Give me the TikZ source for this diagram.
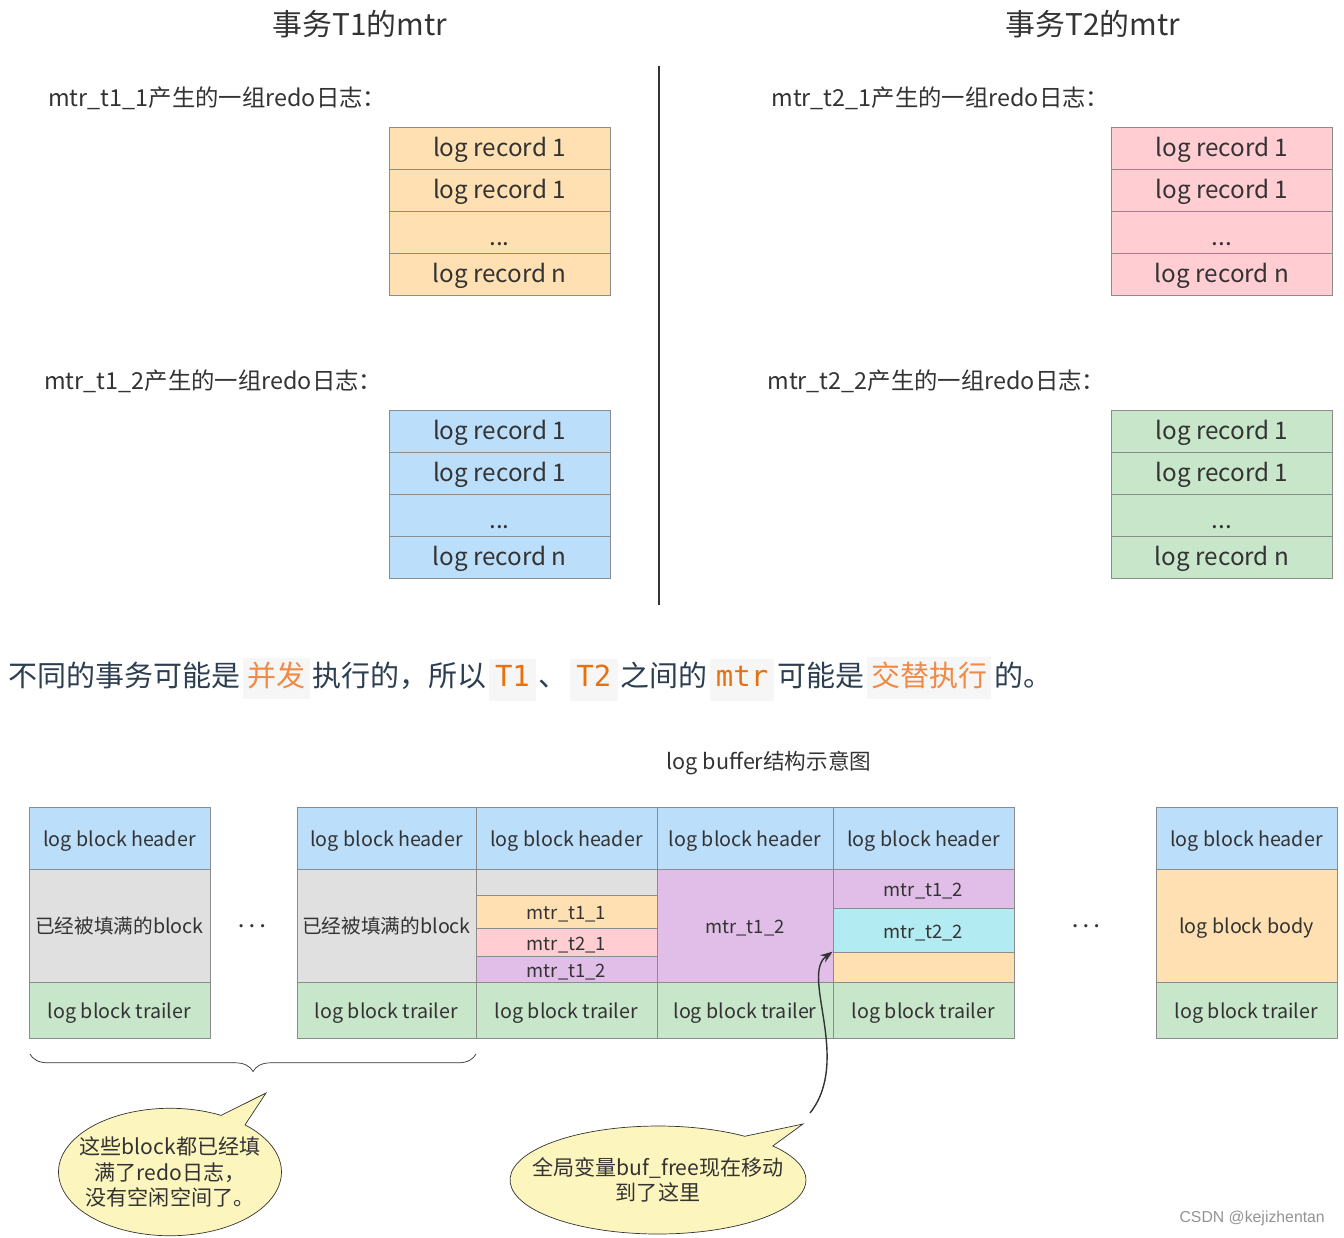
\documentclass[tikz,border=0pt]{standalone}
\usepackage{fontspec}
\setmainfont{Noto Sans CJK SC}
\newfontfamily\codefont{DejaVu Sans Mono}
\newfontfamily\markfont{Liberation Sans}
\usetikzlibrary{shapes.callouts,decorations.pathreplacing,arrows.meta}

\definecolor{recorange}{HTML}{FFE0B2}
\definecolor{recpink}{HTML}{FFCDD2}
\definecolor{recblue}{HTML}{BBDEFB}
\definecolor{recgreen}{HTML}{C8E6C9}
\definecolor{fullgray}{HTML}{E0E0E0}
\definecolor{mtrpurple}{HTML}{E1BEE7}
\definecolor{mtrcyan}{HTML}{B2EBF2}
\definecolor{boxgray}{HTML}{8C8C8C}
\definecolor{textgray}{HTML}{333333}
\definecolor{slate}{HTML}{2C3E50}
\definecolor{hlgray}{HTML}{F6F6F6}
\definecolor{hlorange}{HTML}{F08A45}
\definecolor{codeorange}{HTML}{E8710E}
\definecolor{notefill}{HTML}{FCF5BE}

\newcommand\threedots{\raisebox{-3pt}{...}}
% stack of redo records: name, centre x, top y, fill
\newcommand\recstack[4]{%
  \foreach \txt [count=\i from 0] in {log record 1,log record 1,\threedots,log record n}
    \node[rec, fill=#4] (#1-\i) at (#2, #3+21+\i*42) {\txt};}
% one cell of a log block: name, x1, y1, x2, y2, style, text
\newcommand\cell[7]{%
  \node[cell, #6, minimum width={(#4-#2)*0.02cm}, minimum height={(#5-#3)*0.02cm}]
    (#1) at ({(#2+#4)/2}, {(#3+#5)/2}) {#7};}
\newcommand\hlstrut{\rule[-4.5pt]{0pt}{16.5pt}}
\newcommand\hl[1]{\hspace{1.5pt}{\setlength{\fboxsep}{2.5pt}\colorbox{hlgray}{\hlstrut\color{hlorange}#1}}\hspace{1.5pt}}
\newcommand\hlcode[1]{\hspace{1.5pt}{\setlength{\fboxsep}{3.5pt}\colorbox{hlgray}{\hlstrut\codefont\color{codeorange}#1}}\hspace{1.5pt}}

\begin{document}
\begin{tikzpicture}[x=0.02cm, y=-0.02cm]
    \tikzset{
        rec/.style={
                draw=boxgray,
                minimum width=4.42cm,
                minimum height=0.84cm,
                inner sep=0pt,
                text height=11pt,
                text depth=1.2pt,
                text=textgray,
                font=\fontsize{13.8}{16}\selectfont,
            },
        cell/.style={draw=boxgray, inner sep=0pt, text height=9.5pt, text depth=0pt, text=textgray, font=\fontsize{11.2}{13}\selectfont},
        small/.style={font=\fontsize{10.5}{12}\selectfont},
        title/.style={text=textgray, font=\fontsize{17}{20}\selectfont},
        caption/.style={anchor=west, inner sep=0pt, text=textgray, font=\fontsize{13.3}{16}\selectfont},
        dots/.style={text=textgray, font=\fontsize{12.5}{15}\selectfont\boldmath},
        bubble/.style={
                ellipse callout,
                draw=textgray,
                fill=notefill,
                align=center,
                inner ysep=0pt,
                text=textgray,
                font=\fontsize{12}{14.6}\selectfont,
            },
        pointer/.style={-{Stealth[length=7pt, width=5pt]}, thick, draw=textgray},
    }
    \useasboundingbox (0,0) rectangle (1344,1237);
    % \draw[step=100] (0,0) grid (1344,1237);

    \node[title] (t1) at (360, 24) {事务T1的mtr};
    \node[title] (t2) at (1093, 24) {事务T2的mtr};
    \coordinate (sepTop) at (659, 66);
    \coordinate (sepBot) at (659, 605);
    \draw[textgray, line width=1.2pt] (sepTop) -- (sepBot);

    \node[caption] (cap11) at (48, 98) {mtr\_t1\_1产生的一组redo日志：};
    \node[caption] (cap21) at (771, 98) {mtr\_t2\_1产生的一组redo日志：};
    \node[caption] (cap12) at (44, 381) {mtr\_t1\_2产生的一组redo日志：};
    \node[caption] (cap22) at (767, 381) {mtr\_t2\_2产生的一组redo日志：};
    \recstack{s11}{499.5}{127}{recorange}
    \recstack{s21}{1222}{127}{recpink}
    \recstack{s12}{499.5}{410}{recblue}
    \recstack{s22}{1222}{410}{recgreen}

    \node[anchor=west, inner sep=0pt, text=slate, font=\fontsize{16.5}{20}\selectfont] (claim) at (8, 679)
        {不同的事务可能是\hl{并发}执行的，所以\hlcode{T1}、\hlcode{T2}之间的\hlcode{mtr}可能是\hl{交替执行}的。};

    \node[text=textgray, font=\fontsize{12.3}{14}\selectfont] (bufTitle) at (769, 763) {log buffer结构示意图};

    % log blocks
    \cell{a1}{29}{807}{210}{869}{fill=recblue}{log block header}
    \cell{a2}{29}{869}{210}{982}{fill=fullgray}{已经被填满的block}
    \cell{a3}{29}{982}{210}{1038}{fill=recgreen}{log block trailer}
    \node[dots] (gapL) at (252, 926) {$\cdots$};
    \cell{b1}{297}{807}{476}{869}{fill=recblue}{log block header}
    \cell{b2}{297}{869}{476}{982}{fill=fullgray}{已经被填满的block}
    \cell{b3}{297}{982}{476}{1038}{fill=recgreen}{log block trailer}
    \cell{c1}{476}{807}{657}{869}{fill=recblue}{log block header}
    \cell{c2}{476}{869}{657}{895}{fill=fullgray}{}
    \cell{c3}{476}{895}{657}{928}{fill=recorange, small}{mtr\_t1\_1}
    \cell{c4}{476}{928}{657}{956}{fill=recpink, small}{mtr\_t2\_1}
    \cell{c5}{476}{956}{657}{982}{fill=mtrpurple, small}{mtr\_t1\_2}
    \cell{c6}{476}{982}{657}{1038}{fill=recgreen}{log block trailer}
    \cell{d1}{657}{807}{833}{869}{fill=recblue}{log block header}
    \cell{d2}{657}{869}{833}{982}{fill=mtrpurple, small}{mtr\_t1\_2}
    \cell{d3}{657}{982}{833}{1038}{fill=recgreen}{log block trailer}
    \cell{e1}{833}{807}{1014}{869}{fill=recblue}{log block header}
    \cell{e2}{833}{869}{1014}{908}{fill=mtrpurple, small}{mtr\_t1\_2}
    \cell{e3}{833}{908}{1014}{952}{fill=mtrcyan, small}{mtr\_t2\_2}
    \cell{e4}{833}{952}{1014}{982}{fill=recorange}{}
    \cell{e5}{833}{982}{1014}{1038}{fill=recgreen}{log block trailer}
    \node[dots] (gapR) at (1086, 926) {$\cdots$};
    \cell{f1}{1156}{807}{1337}{869}{fill=recblue}{log block header}
    \cell{f2}{1156}{869}{1337}{982}{fill=recorange}{log block body}
    \cell{f3}{1156}{982}{1337}{1038}{fill=recgreen}{log block trailer}

    % notes
    \coordinate (braceL) at (30, 1054);
    \coordinate (braceR) at (476, 1054);
    \draw[textgray, decorate, decoration={brace, mirror, amplitude=10pt}] (braceL) -- (braceR);
    \coordinate (tipA) at (266, 1093);
    \coordinate (tipB) at (803, 1124);
    \node[bubble, callout absolute pointer={(tipA)}, inner xsep=-8pt, minimum width=4.46cm, minimum height=2.55cm]
        (fullNote) at (170, 1172) {这些block都已经填\\满了redo日志，\\没有空闲空间了。};
    \node[bubble, callout absolute pointer={(tipB)}, inner xsep=-13pt, minimum width=5.92cm, minimum height=2.16cm]
        (freeNote) at (658, 1180) {全局变量buf\_free现在移动\\到了这里};
    \coordinate (freeStart) at (810, 1113);
    \draw[pointer] (freeStart) .. controls (852, 1060) and (800, 975) .. (e4.north west);

    \node[anchor=east, text=gray!85, font=\markfont\fontsize{9}{11}\selectfont] (mark) at (1331, 1218) {CSDN @kejizhentan};
\end{tikzpicture}
\end{document}
